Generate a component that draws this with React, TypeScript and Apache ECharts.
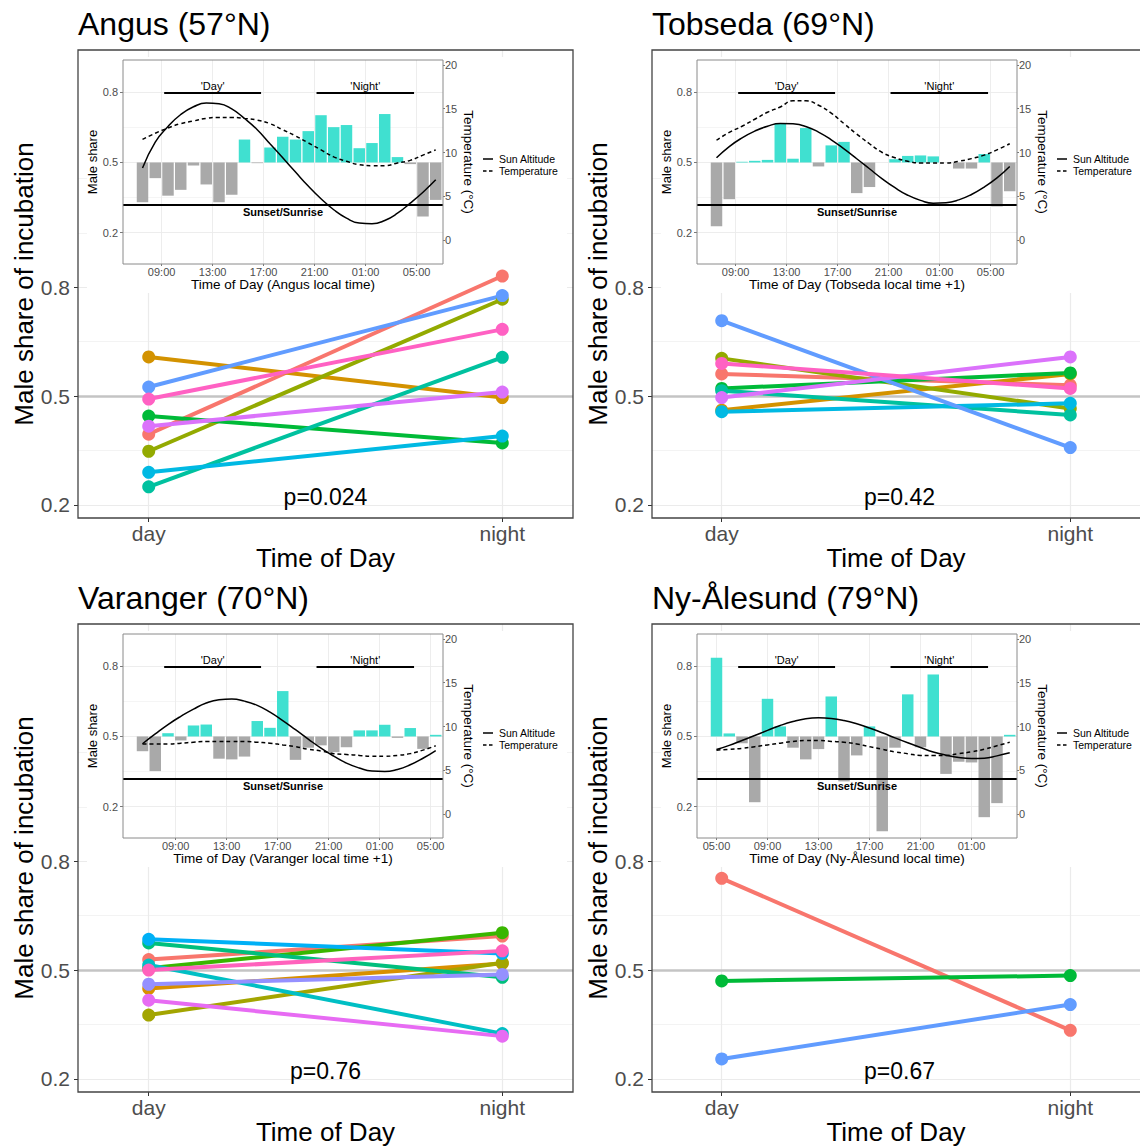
import React, { useEffect, useRef } from "react";
import * as echarts from "echarts";

// ---------- texts ----------
const SITE_TITLES = ["Angus (57°N)", "Tobseda (69°N)", "Varanger (70°N)", "Ny-Ålesund (79°N)"];
const INSET_X_TITLES = [
  "Time of Day (Angus local time)",
  "Time of Day (Tobseda local time +1)",
  "Time of Day (Varanger local time +1)",
  "Time of Day (Ny-Ålesund local time)",
];
const P_LABELS = ["p=0.024", "p=0.42", "p=0.76", "p=0.67"];
const DAY_NIGHT = ["day", "night"];
const DAY_NIGHT_POS = [0, 1];
const MAIN_Y_TICKS = [0.2, 0.5, 0.8];
const MAIN_Y_MINOR = [0.35, 0.65, 0.95, 1.1];
const INSET_Y_TICKS = [0.2, 0.5, 0.8];
const INSET_Y_MINOR = [0.35, 0.65];
const TEMP_TICKS = [0, 5, 10, 15, 20];

// ---------- colours (ggplot hue palettes) ----------
const HUE9 = ["#F8766D", "#D39200", "#93AA00", "#00BA38", "#00C19F", "#00B9E3", "#619CFF", "#DB72FB", "#FF61C3"];
const HUE10 = ["#F8766D", "#D89000", "#A3A500", "#39B600", "#00BF7D", "#00BFC4", "#00B0F6", "#9590FF", "#E76BF3", "#FF62BC"];
const HUE3 = ["#F8766D", "#00BA38", "#619CFF"];

// ---------- main panels: male share per bird ----------
const ANGUS_DAY = [0.395, 0.608, 0.348, 0.445, 0.25, 0.29, 0.525, 0.417, 0.492];
const ANGUS_NIGHT = [0.831, 0.496, 0.767, 0.371, 0.607, 0.39, 0.777, 0.511, 0.684];
const TOBSEDA_DAY = [0.561, 0.461, 0.604, 0.521, 0.515, 0.457, 0.708, 0.496, 0.59];
const TOBSEDA_NIGHT = [0.53, 0.561, 0.466, 0.564, 0.448, 0.48, 0.358, 0.608, 0.521];
const VARANGER_DAY = [0.529, 0.449, 0.376, 0.505, 0.575, 0.514, 0.585, 0.461, 0.417, 0.5];
const VARANGER_NIGHT = [0.594, 0.518, 0.52, 0.603, 0.48, 0.325, 0.546, 0.488, 0.318, 0.553];
const NY_DAY = [0.753, 0.47, 0.255];
const NY_NIGHT = [0.334, 0.485, 0.405];

// ---------- insets: hourly slots ----------
const HOUR_SLOTS = [0, 1, 2, 3, 4, 5, 6, 7, 8, 9, 10, 11, 12, 13, 14, 15, 16, 17, 18, 19, 20, 21, 22, 23];
const CLOCK_A = ["09:00", "13:00", "17:00", "21:00", "01:00", "05:00"];
const CLOCK_NY = ["05:00", "09:00", "13:00", "17:00", "21:00", "01:00"];
const CLOCK_POS_A = [1.5, 5.5, 9.5, 13.5, 17.5, 21.5];
const CLOCK_POS_V = [2.6, 6.6, 10.6, 14.6, 18.6, 22.6];
const CLOCK_POS_NY = [0, 4, 8, 12, 16, 20];
const DAY_SPAN = [1.7, 9.3];
const NIGHT_SPAN = [13.65, 21.3];
const SPAN_Y = 0.8;
const SUNSET_Y = 0.32;

const ANGUS_BARS = [0.33, 0.433, 0.358, 0.383, 0.487, 0.406, 0.33, 0.362, 0.598, 0.497, 0.564, 0.61, 0.598, 0.634, 0.702, 0.651, 0.66, 0.561, 0.583, 0.707, 0.523, 0.493, 0.269, 0.34];
const ANGUS_SUN = [0.476, 0.587, 0.654, 0.705, 0.738, 0.754, 0.751, 0.729, 0.688, 0.64, 0.58, 0.52, 0.459, 0.399, 0.345, 0.298, 0.262, 0.241, 0.238, 0.252, 0.283, 0.326, 0.373, 0.426];
const ANGUS_TEMP = [11.5, 12.2, 12.8, 13.3, 13.6, 13.9, 14.0, 14.0, 13.9, 13.7, 13.3, 12.6, 11.9, 11.1, 10.3, 9.5, 9.0, 8.6, 8.5, 8.5, 8.8, 9.1, 9.7, 10.3];

const TOBSEDA_BARS = [0.227, 0.343, 0.503, 0.507, 0.511, 0.665, 0.516, 0.647, 0.483, 0.573, 0.588, 0.369, 0.395, 0.5, 0.514, 0.528, 0.53, 0.526, 0.5, 0.474, 0.474, 0.536, 0.312, 0.377];
const TOBSEDA_SUN = [0.52, 0.568, 0.605, 0.634, 0.655, 0.667, 0.665, 0.654, 0.63, 0.597, 0.558, 0.516, 0.473, 0.43, 0.392, 0.36, 0.338, 0.326, 0.328, 0.34, 0.363, 0.395, 0.434, 0.483];
const TOBSEDA_TEMP = [11.4, 12.3, 13.0, 13.8, 14.6, 15.2, 15.9, 15.9, 15.4, 14.5, 13.3, 12.1, 11.0, 10.0, 9.4, 9.0, 8.8, 8.8, 8.8, 9.0, 9.3, 9.7, 10.3, 11.0];

const VARANGER_BARS = [0.437, 0.352, 0.514, 0.483, 0.547, 0.551, 0.405, 0.402, 0.414, 0.566, 0.537, 0.694, 0.4, 0.452, 0.462, 0.433, 0.454, 0.526, 0.526, 0.55, 0.494, 0.536, 0.447, 0.507];
const VARANGER_SUN = [0.469, 0.511, 0.551, 0.586, 0.617, 0.643, 0.657, 0.66, 0.651, 0.633, 0.604, 0.568, 0.529, 0.489, 0.45, 0.416, 0.386, 0.365, 0.352, 0.35, 0.359, 0.379, 0.407, 0.44];
const VARANGER_TEMP = [8.0, 8.0, 8.0, 8.1, 8.2, 8.3, 8.3, 8.3, 8.3, 8.2, 8.1, 7.9, 7.7, 7.4, 7.2, 6.9, 6.8, 6.7, 6.6, 6.6, 6.7, 6.9, 7.3, 7.8];

const NY_BARS = [0.836, 0.513, 0.471, 0.219, 0.661, 0.543, 0.452, 0.402, 0.446, 0.671, 0.308, 0.419, 0.543, 0.095, 0.452, 0.68, 0.454, 0.765, 0.34, 0.392, 0.389, 0.155, 0.215, 0.507];
const NY_SUN = [0.444, 0.462, 0.483, 0.504, 0.526, 0.547, 0.564, 0.576, 0.58, 0.577, 0.568, 0.554, 0.536, 0.516, 0.494, 0.473, 0.453, 0.434, 0.42, 0.41, 0.406, 0.407, 0.417, 0.43];
const NY_TEMP = [7.3, 7.4, 7.5, 7.7, 7.9, 8.1, 8.3, 8.4, 8.4, 8.3, 8.2, 8.0, 7.7, 7.4, 7.1, 6.9, 6.7, 6.7, 6.7, 6.9, 7.1, 7.4, 7.8, 8.2];

const SITES = [
  { day: ANGUS_DAY, night: ANGUS_NIGHT, colors: HUE9, bars: ANGUS_BARS, sun: ANGUS_SUN, temp: ANGUS_TEMP, clockPos: CLOCK_POS_A, clock: CLOCK_A },
  { day: TOBSEDA_DAY, night: TOBSEDA_NIGHT, colors: HUE9, bars: TOBSEDA_BARS, sun: TOBSEDA_SUN, temp: TOBSEDA_TEMP, clockPos: CLOCK_POS_A, clock: CLOCK_A },
  { day: VARANGER_DAY, night: VARANGER_NIGHT, colors: HUE10, bars: VARANGER_BARS, sun: VARANGER_SUN, temp: VARANGER_TEMP, clockPos: CLOCK_POS_V, clock: CLOCK_A },
  { day: NY_DAY, night: NY_NIGHT, colors: HUE3, bars: NY_BARS, sun: NY_SUN, temp: NY_TEMP, clockPos: CLOCK_POS_NY, clock: CLOCK_NY },
];

const FONT = "'Liberation Sans', Arial, Helvetica, sans-serif";
const GRID_COL = "#ebebeb";

function nearestLabel(pos: number[], labels: string[], v: number) {
  let k = 0;
  let best = Infinity;
  pos.forEach((p, j) => {
    const d = Math.abs(p - v);
    if (d < best) {
      best = d;
      k = j;
    }
  });
  return labels[k];
}

function buildOption() {
  const option: any = {
    animation: false,
    backgroundColor: "#ffffff",
    textStyle: { fontFamily: FONT },
    title: [],
    grid: [],
    xAxis: [],
    yAxis: [],
    series: [],
    graphic: [],
  };

  SITES.forEach((s, i) => {
    const ox = (i % 2) * 574;
    const oy = Math.floor(i / 2) * 574;
    const gm = 2 * i;
    const gi = 2 * i + 1;
    const ym = 3 * i;
    const yl = 3 * i + 1;
    const yr = 3 * i + 2;

    option.title.push({
      text: SITE_TITLES[i],
      left: 78 + ox,
      top: 8 + oy,
      padding: 0,
      textStyle: { fontSize: 32, fontWeight: "normal", color: "#000", fontFamily: FONT },
    });

    option.grid.push({ left: 78 + ox, top: 50 + oy, width: 495, height: 468 });
    option.grid.push({ left: 123 + ox, top: 60 + oy, width: 320, height: 204 });

    // main x
    option.xAxis.push({
      type: "value",
      gridIndex: gm,
      min: -0.2,
      max: 1.2,
      axisLine: { show: false, onZero: false },
      splitLine: { show: false },
      axisTick: { show: true, customValues: DAY_NIGHT_POS, length: 4, lineStyle: { color: "#333", width: 1 } },
      axisLabel: {
        customValues: DAY_NIGHT_POS,
        formatter: (v: number) => DAY_NIGHT[Math.round(v)],
        fontSize: 21,
        color: "#4d4d4d",
        margin: 5,
        fontFamily: FONT,
      },
      name: "Time of Day",
      nameLocation: "middle",
      nameGap: 21,
      nameTextStyle: { fontSize: 26, color: "#000", fontFamily: FONT },
    });
    // inset x
    option.xAxis.push({
      type: "value",
      gridIndex: gi,
      min: -1.53,
      max: 23.57,
      z: 6,
      axisLine: { show: false, onZero: false },
      splitLine: { show: false },
      axisTick: { show: true, customValues: s.clockPos, length: 2, lineStyle: { color: "#555", width: 0.8 } },
      axisLabel: {
        customValues: s.clockPos,
        formatter: (v: number) => nearestLabel(s.clockPos, s.clock, v),
        fontSize: 11,
        color: "#4d4d4d",
        margin: 2,
        fontFamily: FONT,
      },
      name: INSET_X_TITLES[i],
      nameLocation: "middle",
      nameGap: 13,
      nameTextStyle: { fontSize: 13.5, color: "#000", fontFamily: FONT },
    });

    // main y
    option.yAxis.push({
      type: "value",
      gridIndex: gm,
      min: 0.164,
      max: 1.454,
      axisLine: { show: false, onZero: false },
      splitLine: { show: false },
      axisTick: { show: true, customValues: MAIN_Y_TICKS, length: 4, lineStyle: { color: "#333", width: 1 } },
      axisLabel: {
        customValues: MAIN_Y_TICKS,
        formatter: (v: number) => v.toFixed(1),
        fontSize: 21,
        color: "#4d4d4d",
        margin: 8,
        fontFamily: FONT,
      },
      name: "Male share of incubation",
      nameLocation: "middle",
      nameGap: 38,
      nameTextStyle: { fontSize: 26, color: "#000", fontFamily: FONT },
    });
    // inset left y
    option.yAxis.push({
      type: "value",
      gridIndex: gi,
      min: 0.066,
      max: 0.938,
      z: 6,
      axisLine: { show: false, onZero: false },
      splitLine: { show: false },
      axisTick: { show: true, customValues: INSET_Y_TICKS, length: 3, lineStyle: { color: "#555", width: 0.8 } },
      axisLabel: {
        customValues: INSET_Y_TICKS,
        formatter: (v: number) => v.toFixed(1),
        fontSize: 11,
        color: "#4d4d4d",
        margin: 5,
        fontFamily: FONT,
      },
      name: "Male share",
      nameLocation: "middle",
      nameGap: 18,
      nameTextStyle: { fontSize: 13, color: "#000", fontFamily: FONT },
    });
    // inset right y
    option.yAxis.push({
      type: "value",
      gridIndex: gi,
      position: "right",
      min: -2.74,
      max: 20.57,
      z: 6,
      axisLine: { show: false, onZero: false },
      splitLine: { show: false },
      axisTick: { show: true, customValues: TEMP_TICKS, length: 2, lineStyle: { color: "#555", width: 0.8 } },
      axisLabel: {
        customValues: TEMP_TICKS,
        formatter: (v: number) => String(Math.round(v)),
        fontSize: 11,
        color: "#4d4d4d",
        margin: 2,
        fontFamily: FONT,
      },
      name: "Temperature (°C)",
      nameLocation: "middle",
      nameRotate: -90,
      nameGap: 11,
      nameTextStyle: { fontSize: 13.5, color: "#000", fontFamily: FONT },
    });

    // ---- main gridlines ----
    option.series.push({
      type: "line",
      xAxisIndex: gm,
      yAxisIndex: ym,
      data: [],
      silent: true,
      z: 1,
      markLine: {
        z: 1,
        silent: true,
        symbol: ["none", "none"],
        label: { show: false },
        lineStyle: { type: "solid", color: GRID_COL },
        data: [
          ...MAIN_Y_TICKS.map((v) => ({ yAxis: v, lineStyle: { type: "solid", color: GRID_COL, width: 1.2 } })),
          ...MAIN_Y_MINOR.map((v) => ({ yAxis: v, lineStyle: { type: "solid", color: GRID_COL, width: 0.6 } })),
          ...DAY_NIGHT_POS.map((v) => ({ xAxis: v, lineStyle: { type: "solid", color: GRID_COL, width: 1.2 } })),
        ],
      },
    });
    // grey 0.5 reference line
    option.series.push({
      type: "line",
      xAxisIndex: gm,
      yAxisIndex: ym,
      data: [],
      silent: true,
      z: 2,
      markLine: {
        z: 2,
        silent: true,
        symbol: ["none", "none"],
        label: { show: false },
        data: [{ yAxis: 0.5, lineStyle: { type: "solid", color: "#c4c4c4", width: 2.5 } }],
      },
    });

    // ---- main bird lines & points ----
    s.day.forEach((d, k) => {
      option.series.push({
        type: "line",
        xAxisIndex: gm,
        yAxisIndex: ym,
        data: [
          [DAY_NIGHT_POS[0], d],
          [DAY_NIGHT_POS[1], s.night[k]],
        ],
        symbol: "none",
        silent: true,
        z: 7,
        lineStyle: { color: s.colors[k], width: 4 },
      });
    });
    s.day.forEach((d, k) => {
      option.series.push({
        type: "scatter",
        xAxisIndex: gm,
        yAxisIndex: ym,
        data: [
          [DAY_NIGHT_POS[0], d],
          [DAY_NIGHT_POS[1], s.night[k]],
        ],
        symbol: "circle",
        symbolSize: 13,
        silent: true,
        z: 8,
        itemStyle: { color: s.colors[k], opacity: 1 },
      });
    });

    // ---- inset gridlines ----
    option.series.push({
      type: "line",
      xAxisIndex: gi,
      yAxisIndex: yl,
      data: [],
      silent: true,
      z: 3,
      markLine: {
        z: 3,
        silent: true,
        symbol: ["none", "none"],
        label: { show: false },
        data: [
          ...INSET_Y_TICKS.map((v) => ({ yAxis: v, lineStyle: { type: "solid", color: GRID_COL, width: 0.9 } })),
          ...INSET_Y_MINOR.map((v) => ({ yAxis: v, lineStyle: { type: "solid", color: GRID_COL, width: 0.5 } })),
          ...s.clockPos.map((v) => ({ xAxis: v, lineStyle: { type: "solid", color: GRID_COL, width: 0.9 } })),
        ],
      },
    });

    // ---- inset bars (from 0.5 baseline) ----
    option.series.push({
      type: "custom",
      xAxisIndex: gi,
      yAxisIndex: yl,
      z: 4,
      silent: true,
      encode: { x: 0, y: 1 },
      data: HOUR_SLOTS.map((h, j) => [h, s.bars[j]]),
      renderItem: (params: any, api: any) => {
        const x = api.value(0);
        const v = api.value(1);
        const a = api.coord([x - 0.45, 0.5]);
        const b = api.coord([x + 0.45, v]);
        return {
          type: "rect",
          shape: {
            x: a[0],
            y: Math.min(a[1], b[1]),
            width: b[0] - a[0],
            height: Math.abs(b[1] - a[1]),
          },
          style: { fill: v >= 0.5 ? "#40E0D0" : "#A9A9A9" },
        };
      },
    });

    // ---- inset annotations ----
    option.series.push({
      type: "line",
      xAxisIndex: gi,
      yAxisIndex: yl,
      data: [],
      silent: true,
      z: 5,
      markLine: {
        z: 5,
        silent: true,
        symbol: ["none", "none"],
        lineStyle: { type: "solid", color: "#000", width: 2 },
        data: [
          {
            yAxis: SUNSET_Y,
            lineStyle: { type: "solid", color: "#000", width: 2.2 },
            label: {
              show: true,
              formatter: "Sunset/Sunrise",
              position: "insideMiddleBottom",
              distance: 2,
              fontSize: 11,
              fontWeight: "bold",
              color: "#000",
              fontFamily: FONT,
            },
          },
          [
            {
              coord: [DAY_SPAN[0], SPAN_Y],
              lineStyle: { type: "solid", color: "#000", width: 2 },
              label: {
                show: true,
                formatter: "'Day'",
                position: "insideMiddleTop",
                distance: 1,
                fontSize: 11,
                color: "#000",
                fontFamily: FONT,
              },
            },
            { coord: [DAY_SPAN[1], SPAN_Y] },
          ],
          [
            {
              coord: [NIGHT_SPAN[0], SPAN_Y],
              lineStyle: { type: "solid", color: "#000", width: 2 },
              label: {
                show: true,
                formatter: "'Night'",
                position: "insideMiddleTop",
                distance: 1,
                fontSize: 11,
                color: "#000",
                fontFamily: FONT,
              },
            },
            { coord: [NIGHT_SPAN[1], SPAN_Y] },
          ],
        ],
      },
    });

    // ---- inset sun altitude & temperature ----
    option.series.push({
      name: "Sun Altitude",
      type: "line",
      xAxisIndex: gi,
      yAxisIndex: yl,
      data: HOUR_SLOTS.map((h, j) => [h, s.sun[j]]),
      smooth: true,
      symbol: "none",
      silent: true,
      z: 5,
      lineStyle: { color: "#000", width: 1.5, type: "solid" },
    });
    option.series.push({
      name: "Temperature",
      type: "line",
      xAxisIndex: gi,
      yAxisIndex: yr,
      data: HOUR_SLOTS.map((h, j) => [h, s.temp[j]]),
      smooth: true,
      symbol: "none",
      silent: true,
      z: 5,
      lineStyle: { color: "#000", width: 1.5, type: [4, 3] },
    });

    // ---- graphic decorations ----
    option.graphic.push(
      {
        type: "rect",
        z: 2,
        silent: true,
        shape: { x: 87 + ox, y: 57 + oy, width: 480, height: 236 },
        style: { fill: "#ffffff", stroke: "none" },
      },
      {
        type: "rect",
        z: 30,
        silent: true,
        shape: { x: 123 + ox, y: 60 + oy, width: 320, height: 204 },
        style: { fill: "none", stroke: "#8a8a8a", lineWidth: 1 },
      },
      {
        type: "rect",
        z: 30,
        silent: true,
        shape: { x: 78 + ox, y: 50 + oy, width: 495, height: 468 },
        style: { fill: "none", stroke: "#444", lineWidth: 1.3 },
      },
      {
        type: "line",
        z: 7,
        silent: true,
        shape: { x1: 483 + ox, y1: 159 + oy, x2: 493 + ox, y2: 159 + oy },
        style: { stroke: "#000", lineWidth: 1.5 },
      },
      {
        type: "line",
        z: 7,
        silent: true,
        shape: { x1: 483 + ox, y1: 171 + oy, x2: 493 + ox, y2: 171 + oy },
        style: { stroke: "#000", lineWidth: 1.5, lineDash: [3.5, 2.5] },
      },
      {
        type: "text",
        z: 7,
        silent: true,
        x: 499 + ox,
        y: 159 + oy,
        style: { text: "Sun Altitude", fontSize: 10.5, fontFamily: FONT, fill: "#000", textVerticalAlign: "middle", verticalAlign: "middle" },
      },
      {
        type: "text",
        z: 7,
        silent: true,
        x: 499 + ox,
        y: 171 + oy,
        style: { text: "Temperature", fontSize: 10.5, fontFamily: FONT, fill: "#000", textVerticalAlign: "middle", verticalAlign: "middle" },
      },
      {
        type: "text",
        z: 9,
        silent: true,
        x: 325.5 + ox,
        y: 497 + oy,
        style: {
          text: P_LABELS[i],
          fontSize: 23,
          fontFamily: FONT,
          fill: "#000",
          textAlign: "center",
          align: "center",
          textVerticalAlign: "middle",
          verticalAlign: "middle",
        },
      }
    );
  });

  return option;
}

export default function App() {
  const ref = useRef<HTMLDivElement>(null);
  useEffect(() => {
    document.body.style.margin = "0";
    const chart = echarts.init(ref.current as HTMLDivElement, null, { renderer: "svg", width: 1140, height: 1147 });
    chart.setOption(buildOption());
    return () => {
      chart.dispose();
    };
  }, []);
  return (
    <div
      ref={ref}
      style={{ position: "absolute", left: 0, top: 0, width: 1140, height: 1147, background: "#ffffff" }}
    />
  );
}
